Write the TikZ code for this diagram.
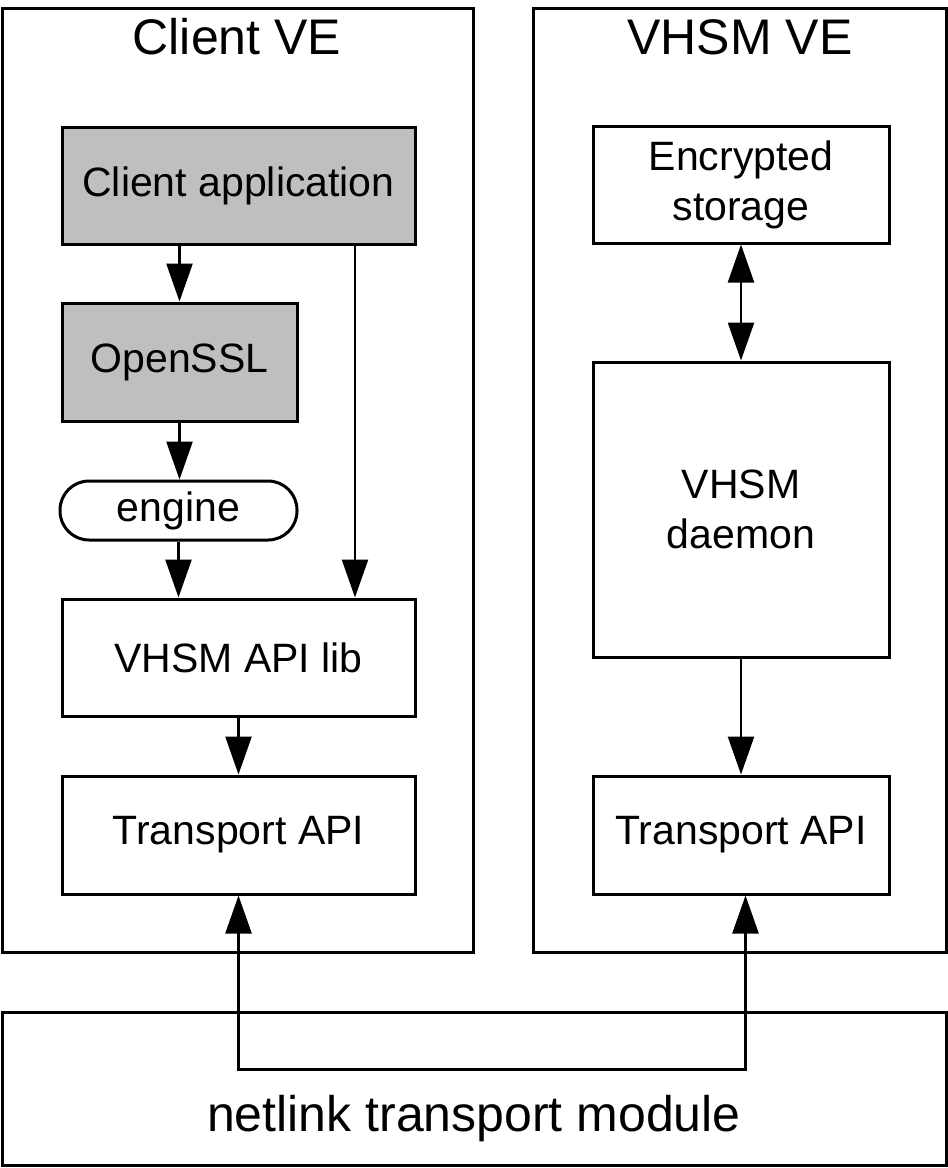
\documentclass[tikz,border=0pt]{standalone}
\usepackage{fontspec}
\setmainfont{Liberation Sans}
\usetikzlibrary{arrows.meta}
\begin{document}
\begin{tikzpicture}[x=1pt,y=-1pt,
  box/.style={draw=black,line width=3pt,fill=white,inner sep=0pt,align=center,font=\fontsize{41}{50}\selectfont},
  graybox/.style={box,fill=black!25},
  pill/.style={box,rounded corners=29pt},
  frame/.style={draw=black,line width=3pt,inner sep=0pt},
  title/.style={anchor=base,inner sep=0pt,font=\fontsize{50}{58}\selectfont},
  conn/.style={line width=2.5pt,-{Triangle[width=26pt,length=38pt]}},
  conn2/.style={line width=2.5pt,{Triangle[width=26pt,length=38pt]}-{Triangle[width=26pt,length=38pt]}}
]
\useasboundingbox (0,0) rectangle (948,1168);
% frames
\node[frame,minimum width=471pt,minimum height=944pt] (cve) at (237.5,480) {};
\node[frame,minimum width=413pt,minimum height=944pt] (vve) at (739.5,480) {};
\node[title] (cvet) at (237,54) {Client VE};
\node[title] (vvet) at (740,54) {VHSM VE};
% client side
\node[graybox,minimum width=353pt,minimum height=117pt] (app) at (238.5,186) {Client application};
\node[graybox,minimum width=235pt,minimum height=118pt] (ossl) at (179.5,362) {OpenSSL};
\node[pill,minimum width=237pt,minimum height=59pt] (eng) at (178.5,510.5) {engine};
\node[box,minimum width=353pt,minimum height=117pt] (api) at (238.5,657.5) {VHSM API lib};
\node[box,minimum width=353pt,minimum height=118pt] (trl) at (238.5,835) {Transport API};
% vhsm side
\node[box,minimum width=296pt,minimum height=117pt] (enc) at (741,184.5) {Encrypted\\storage};
\node[box,minimum width=296pt,minimum height=295pt] (dmn) at (741,509.5) {VHSM\\daemon};
\node[box,minimum width=296pt,minimum height=118pt] (trr) at (741,835) {Transport API};
% netlink
\node[frame,minimum width=944pt,minimum height=153pt] (net) at (474,1088.5) {};
\node[title] (nett) at (474,1131) {netlink transport module};
% connectors
\draw[conn] (app.south -| ossl.north) -- (ossl.north);
\draw[conn] (ossl.south) -- (ossl.south |- eng.north);
\draw[conn] (eng.south) -- (eng.south |- api.north);
\draw[conn] ([xshift=116.5pt]app.south) -- ([xshift=116.5pt]api.north);
\draw[conn] (api.south) -- (trl.north);
\draw[conn2] (enc.south) -- (dmn.north);
\draw[conn] (dmn.south) -- (trr.north);
\draw[conn2] (trl.south) -- ++(0,174) -| ([xshift=4.5pt]trr.south);
\end{tikzpicture}
\end{document}
